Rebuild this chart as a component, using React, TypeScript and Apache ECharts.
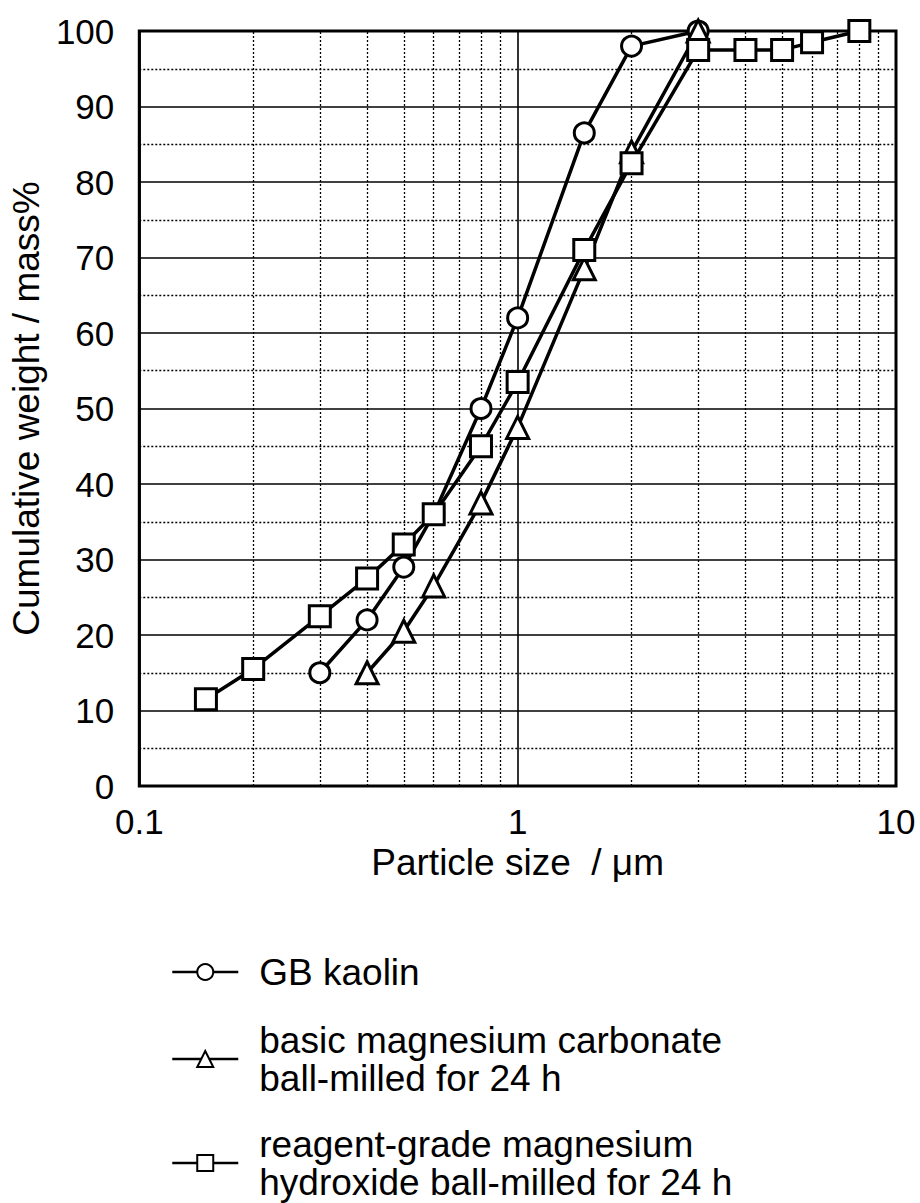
import React, { useEffect, useRef } from "react";
import * as echarts from "echarts";

const FONT = "'Liberation Sans', Arial, Helvetica, sans-serif";

const kaolinX = [0.3, 0.4, 0.5, 0.6, 0.8, 1, 1.5, 2, 3];
const kaolinY = [15, 22, 29, 36, 50, 62, 86.5, 98, 100];

const carbX = [0.4, 0.5, 0.6, 0.8, 1, 1.5, 2, 3];
const carbY = [15, 20.5, 26.5, 37.5, 47.5, 68.5, 84, 100];

const hydX = [0.15, 0.2, 0.3, 0.4, 0.5, 0.6, 0.8, 1, 1.5, 2, 3, 4, 5, 6, 8];
const hydY = [11.5, 15.5, 22.5, 27.5, 32, 36, 45, 53.5, 71, 82.5, 97.5, 97.5, 97.5, 98.5, 100];

const minorX = [0.2, 0.3, 0.4, 0.5, 0.6, 0.7, 0.8, 0.9, 2, 3, 4, 5, 6, 7, 8, 9];

const names = [
  "GB kaolin",
  "basic magnesium carbonate\nball-milled for 24 h",
  "reagent-grade magnesium\nhydroxide ball-milled for 24 h",
];

const legendTops = [953, 1021, 1125];

const pairs = (xs: number[], ys: number[]) => xs.map((x, i) => [x, ys[i]]);

export default function App() {
  const ref = useRef<HTMLDivElement>(null);
  useEffect(() => {
    if (!ref.current) return;
    const chart = echarts.init(ref.current, null, { renderer: "svg" });
    const markerStyle = { color: "#fff", borderColor: "#000", borderWidth: 3 };
    const lineStyle = { color: "#000", width: 3.5 };
    chart.setOption({
      animation: false,
      backgroundColor: "#fff",
      grid: {
        left: 137,
        right: 24,
        top: 31,
        bottom: 417,
        show: true,
        borderColor: "#000",
        borderWidth: 3,
        backgroundColor: "transparent",
      },
      xAxis: {
        type: "log",
        logBase: 10,
        min: 0.1,
        max: 10,
        axisLine: { show: false },
        axisTick: { show: false },
        axisLabel: {
          color: "#000",
          fontSize: 35,
          fontFamily: FONT,
          margin: 18,
          formatter: (v: number) => String(v),
        },
        splitLine: { show: true, lineStyle: { color: "#000", width: 1.6 } },
        name: "Particle size  / μm",
        nameLocation: "middle",
        nameGap: 54,
        nameTextStyle: { color: "#000", fontSize: 37, fontFamily: FONT },
      },
      yAxis: {
        type: "value",
        min: 0,
        max: 100,
        interval: 10,
        axisLine: { show: false },
        axisTick: { show: false },
        axisLabel: { color: "#000", fontSize: 35, fontFamily: FONT, margin: 25 },
        splitLine: { show: true, lineStyle: { color: "#000", width: 1.6 } },
        minorTick: { show: false, splitNumber: 2 },
        minorSplitLine: { show: true, lineStyle: { color: "#000", width: 1.3, type: [2, 2] } },
        name: "Cumulative weight / mass%",
        nameLocation: "middle",
        nameGap: 88,
        nameTextStyle: { color: "#000", fontSize: 37, fontFamily: FONT },
      },
      legend: names.map((n, i) => ({
        orient: "vertical",
        left: 171,
        top: legendTops[i],
        padding: 0,
        itemWidth: 66,
        itemHeight: 20,
        data: [n],
        lineStyle: { width: 2.5 },
        itemStyle: { borderWidth: 2 },
        textStyle: {
          color: "#000",
          fontSize: 37,
          lineHeight: 38,
          fontFamily: FONT,
          padding: [0, 0, 0, 16],
        },
      })),
      series: [
        {
          name: names[0],
          type: "line",
          data: pairs(kaolinX, kaolinY),
          symbol: "circle",
          symbolSize: 20,
          lineStyle,
          itemStyle: markerStyle,
          markLine: {
            silent: true,
            symbol: ["none", "none"],
            label: { show: false },
            lineStyle: { color: "#000", width: 1.3, type: [2, 2] },
            data: minorX.map((v) => ({ xAxis: v })),
            z: 1,
          },
        },
        {
          name: names[1],
          type: "line",
          data: pairs(carbX, carbY),
          symbol: "triangle",
          symbolSize: 22,
          lineStyle,
          itemStyle: markerStyle,
        },
        {
          name: names[2],
          type: "line",
          data: pairs(hydX, hydY),
          symbol: "rect",
          symbolSize: 21,
          lineStyle,
          itemStyle: markerStyle,
        },
      ],
    });
    return () => chart.dispose();
  }, []);
  return (
    <div
      ref={ref}
      style={{ position: "absolute", left: 0, top: 0, width: 920, height: 1203 }}
    />
  );
}
